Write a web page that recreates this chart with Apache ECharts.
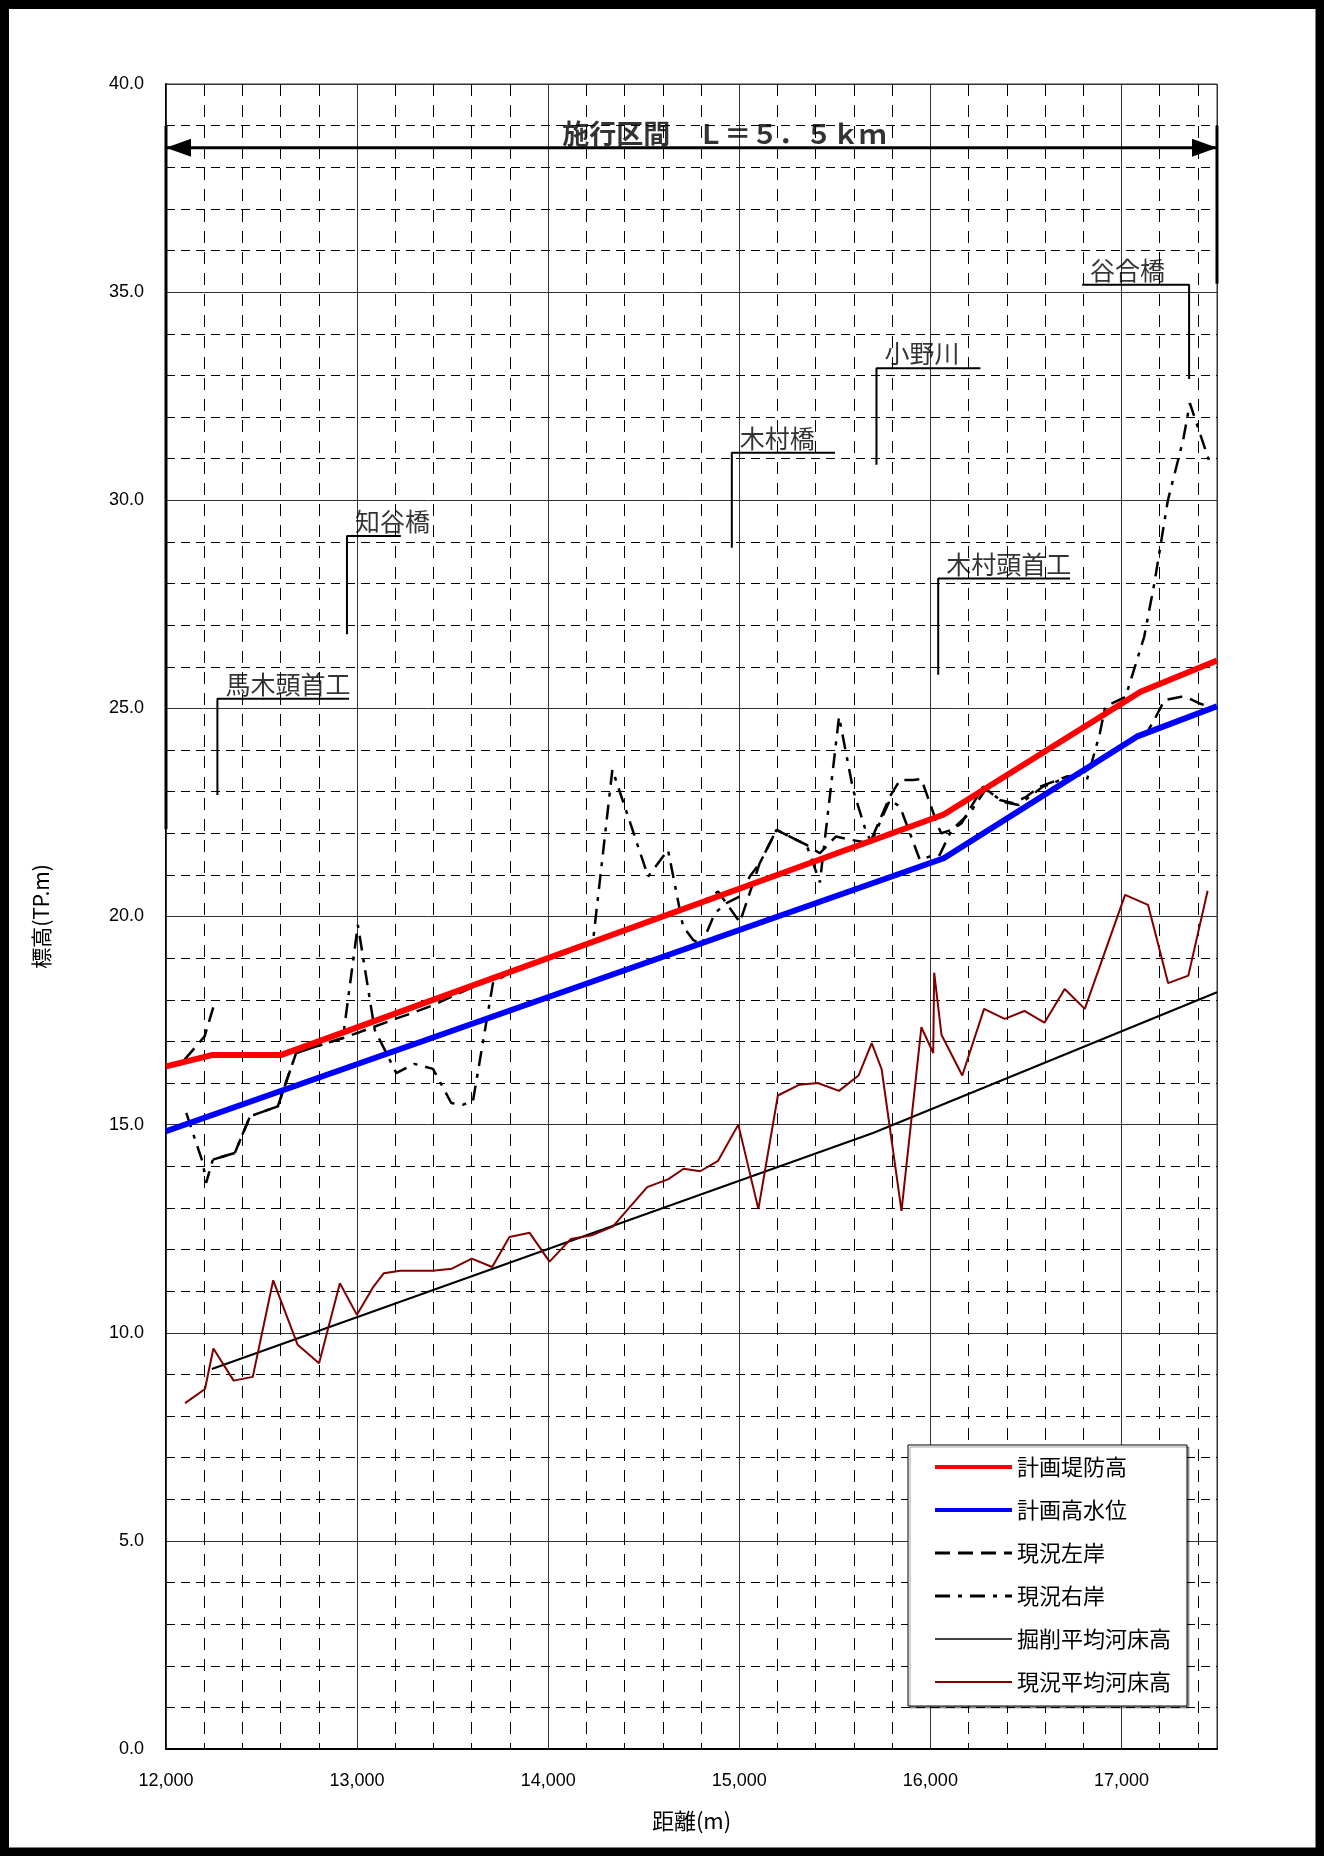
<!DOCTYPE html>
<html>
<head>
<meta charset="utf-8">
<script src="https://cdn.jsdelivr.net/npm/echarts@6/dist/echarts.min.js"></script>
<style>
html,body{margin:0;padding:0;background:#fff;}
#c{width:1324px;height:1856px;}
</style>
</head>
<body>
<div id="c"></div>
<script>
// ---------------- data ----------------
const xTicks = [12000, 13000, 14000, 15000, 16000, 17000];
const yTicks = [0, 5, 10, 15, 20, 25, 30, 35, 40];

const leveeX = [12000, 12240, 12600, 16070, 17100, 17500];
const leveeY = [16.40, 16.67, 16.67, 22.45, 25.40, 26.15];

const hwlX = [12000, 16070, 17080, 17500];
const hwlY = [14.84, 21.40, 24.32, 25.05];

const leftBankX = [12097, 12202, 12254, 12255, 12245, 12360, 12440, 12585, 12681, 12800, 12926, 13000, 13100, 13200, 13300, 13400, 13450, 13700, 14000, 14300, 14619, 14689, 14776, 14837, 14889, 15003, 15107, 15195, 15352, 15422, 15505, 15587, 15683, 15788, 15841, 15910, 15953, 16041, 16057, 16111, 16163, 16276, 16364, 16433, 16503, 16573, 16713, 16783, 16854, 16950, 17060, 17137, 17175, 17225, 17314, 17350, 17403, 17457];
const leftBankY = [16.56, 17.12, 17.92, null, 14.16, 14.32, 15.20, 15.44, 16.72, 16.90, 17.08, 17.20, 17.37, 17.54, 17.70, 17.87, 17.98, 18.50, 19.00, 19.50, 20.06, 20.14, 20.28, 20.44, 20.60, 19.86, 21.28, 22.08, 21.72, 21.52, 21.92, 21.84, 21.76, 22.88, 23.28, 23.28, 23.30, 22.16, 22.00, 22.08, 22.24, 23.12, 22.80, 22.72, 22.88, 23.12, 23.36, 23.40, 23.62, 23.92, 24.25, 24.45, 24.75, 25.20, 25.28, 25.25, 25.13, 25.04];

const rightBankX = [12106, 12193, 12210, 12245, 12360, 12440, 12585, 12681, 12800, 12926, 13004, 13092, 13205, 13300, 13397, 13493, 13554, 13606, 13711, 13800, 14000, 14235, 14336, 14523, 14601, 14627, 14706, 14758, 14803, 14872, 14933, 15003, 15055, 15107, 15195, 15352, 15422, 15522, 15596, 15666, 15692, 15788, 15841, 15945, 15997, 16049, 16111, 16206, 16287, 16322, 16374, 16463, 16589, 16642, 16712, 16783, 16819, 16887, 16915, 17022, 17065, 17119, 17172, 17243, 17323, 17358, 17457];
const rightBankY = [15.28, 14.08, 13.60, 14.16, 14.32, 15.20, 15.44, 16.72, 16.90, 17.08, 19.80, 17.28, 16.24, 16.46, 16.34, 15.52, 15.48, 15.56, 18.40, 18.66, 19.00, 19.42, 23.53, 20.96, 21.44, 21.60, 19.76, 19.44, 19.32, 20.08, 20.32, 20.48, 20.96, 21.28, 22.08, 21.72, 20.82, 24.80, 23.04, 22.00, 21.80, 22.80, 22.64, 21.36, 21.44, 21.48, 22.08, 22.48, 23.04, 22.96, 22.76, 22.68, 23.12, 23.20, 23.36, 23.40, 23.28, 24.40, 25.04, 25.28, 25.92, 26.72, 28.00, 30.00, 31.45, 32.33, 30.97];

const planBedX = [12240, 15700, 17500];
const planBedY = [9.13, 14.80, 18.18];

const bedX = [12100, 12204, 12248, 12354, 12454, 12561, 12689, 12801, 12910, 12999, 13086, 13140, 13226, 13396, 13496, 13600, 13707, 13797, 13903, 14007, 14118, 14228, 14338, 14518, 14629, 14709, 14795, 14889, 14995, 15100, 15202, 15315, 15411, 15522, 15624, 15693, 15745, 15849, 15953, 16015, 16020, 16058, 16167, 16281, 16389, 16492, 16597, 16703, 16808, 17019, 17139, 17244, 17350, 17451];
const bedY = [8.31, 8.65, 9.62, 8.85, 8.94, 11.26, 9.71, 9.27, 11.19, 10.43, 11.11, 11.43, 11.49, 11.49, 11.54, 11.78, 11.58, 12.30, 12.40, 11.71, 12.25, 12.34, 12.55, 13.50, 13.69, 13.94, 13.88, 14.13, 15.00, 12.97, 15.70, 15.96, 16.00, 15.81, 16.18, 16.96, 16.33, 12.93, 17.34, 16.72, 18.65, 17.16, 16.18, 17.78, 17.54, 17.73, 17.45, 18.26, 17.78, 20.52, 20.28, 18.40, 18.58, 20.62];

// annotations (station of the leader, leader extent, elevations)
const annotNames = ['馬木頭首工', '知谷橋', '木村橋', '小野川', '木村頭首工', '谷合橋'];
const annotLineStart = [12269, 12947, 14961, 15718, 16041, 16794];
const annotLineEnd = [12958, 13229, 15501, 16262, 16731, 17354];
const annotLeaderX = [12269, 12947, 14961, 15718, 16041, 17354];
const annotTop = [25.23, 29.14, 31.14, 33.17, 28.12, 35.18];
const annotBottom = [22.92, 26.78, 28.86, 30.85, 25.81, 32.91];

// construction section
const sectionTitle = '施行区間　Ｌ＝５．５ｋｍ';
const sectionStart = 12000;
const sectionEnd = 17500;
const sectionLevel = 38.47;
const sectionTitleX = 14922;
const sectionMarkTop = 39.0;
const sectionLeftMarkBottom = 22.1;
const sectionRightMarkBottom = 35.2;

const seriesNames = ['計画堤防高', '計画高水位', '現況左岸', '現況右岸', '掘削平均河床高', '現況平均河床高'];

// ---------------- chart ----------------
const pairs = (xs, ys) => xs.map((x, i) => [x, ys[i]]);
const CJK = '"Noto Sans CJK JP", "Noto Sans", sans-serif';
const NUM = '"Liberation Sans", Arial, sans-serif';

const leaderData = [];
annotNames.forEach((n, i) => {
  if (annotLeaderX[i] === annotLineStart[i]) {
    leaderData.push([annotLeaderX[i], annotBottom[i]], [annotLineStart[i], annotTop[i]], [annotLineEnd[i], annotTop[i]]);
  } else {
    leaderData.push([annotLineStart[i], annotTop[i]], [annotLineEnd[i], annotTop[i]], [annotLeaderX[i], annotBottom[i]]);
  }
  leaderData.push([annotLineEnd[i], null]);
});
const annotLabelData = annotNames.map((n, i) => ({ name: n, value: [annotLineStart[i], annotTop[i]] }));

const chart = echarts.init(document.getElementById('c'), null, { renderer: 'canvas', width: 1324, height: 1856 });

const option = {
  animation: false,
  backgroundColor: '#fff',
  grid: { left: 166, top: 84, width: 1051, height: 1665, show: true, borderColor: '#333', borderWidth: 1, backgroundColor: 'transparent' },
  xAxis: [
    {
      type: 'value', min: 12000, max: 17500, interval: 1000, z: 1,
      axisLine: { show: true, onZero: false, lineStyle: { color: '#000', width: 2 } },
      axisTick: { show: false },
      axisLabel: {
        margin: 23, fontSize: 18, color: '#000', fontFamily: NUM, showMaxLabel: false,
        formatter: v => xTicks.includes(v) ? v.toLocaleString('en-US') : ''
      },
      splitLine: { show: true, lineStyle: { color: '#333', width: 1, type: 'solid' } },
      name: '距離(m)', nameLocation: 'middle', nameGap: 61,
      nameTextStyle: { fontSize: 22, color: '#000', fontFamily: CJK }
    },
    {
      type: 'value', min: 12000, max: 17500, interval: 200, position: 'bottom', z: 0,
      axisLine: { show: false }, axisTick: { show: false }, axisLabel: { show: false },
      splitLine: { show: true, lineStyle: { color: '#000', width: 1, type: [12, 9] } }
    }
  ],
  yAxis: {
    type: 'value', min: 0, max: 40, interval: 5,
    axisLine: { show: true, onZero: false, lineStyle: { color: '#000', width: 2 } },
    axisTick: { show: false },
    axisLabel: { margin: 22, fontSize: 18, color: '#000', fontFamily: NUM, formatter: v => yTicks.includes(v) ? v.toFixed(1) : '' },
    splitLine: { show: true, lineStyle: { color: '#333', width: 1 } },
    minorTick: { show: false, splitNumber: 5 },
    minorSplitLine: { show: true, lineStyle: { color: '#000', width: 1, type: [9, 6] } },
    name: '標高(TP.m)', nameLocation: 'middle', nameRotate: 90, nameGap: 114,
    nameTextStyle: { fontSize: 21, color: '#000', fontFamily: CJK }
  },
  legend: {
    data: [
      { name: seriesNames[0], lineStyle: { width: 4 } },
      { name: seriesNames[1], lineStyle: { width: 4 } },
      { name: seriesNames[2], lineStyle: { width: 3 } },
      { name: seriesNames[3], lineStyle: { width: 3 } },
      { name: seriesNames[4], lineStyle: { width: 1.5 } },
      { name: seriesNames[5], lineStyle: { width: 2 } }
    ],
    orient: 'vertical', left: 908, top: 1445,
    itemWidth: 77, itemHeight: 14, itemGap: 21,
    padding: [11, 16, 13, 25],
    itemStyle: { opacity: 0, borderWidth: 0 },
    backgroundColor: '#fff', borderColor: '#000', borderWidth: 1,
    shadowColor: 'rgba(0,0,0,0.35)', shadowOffsetX: 2, shadowOffsetY: 2, shadowBlur: 0,
    textStyle: { fontSize: 22, color: '#000', fontFamily: CJK, lineHeight: 22 },
    selectedMode: false
  },
  graphic: [
    { type: 'rect', shape: { x: 4.5, y: 4.5, width: 1315.5, height: 1847.5 }, style: { fill: 'none', stroke: '#000', lineWidth: 9 }, silent: true, z: 100 }
  ],
  series: [
    {
      name: seriesNames[2], type: 'line', data: pairs(leftBankX, leftBankY), symbol: 'none', connectNulls: false, z: 2,
      lineStyle: { color: '#000', width: 2.5, type: [15, 8] }, itemStyle: { color: '#000' }
    },
    {
      name: seriesNames[3], type: 'line', data: pairs(rightBankX, rightBankY), symbol: 'none', z: 2,
      lineStyle: { color: '#000', width: 2.5, type: [15, 8, 4, 8] }, itemStyle: { color: '#000' }
    },
    {
      name: seriesNames[0], type: 'line', data: pairs(leveeX, leveeY), symbol: 'none', z: 3,
      lineStyle: { color: '#ff0000', width: 6 }, itemStyle: { color: '#ff0000' }
    },
    {
      name: seriesNames[1], type: 'line', data: pairs(hwlX, hwlY), symbol: 'none', z: 3,
      lineStyle: { color: '#0000ff', width: 6 }, itemStyle: { color: '#0000ff' }
    },
    {
      name: seriesNames[4], type: 'line', data: pairs(planBedX, planBedY), symbol: 'none', z: 3,
      lineStyle: { color: '#000', width: 2 }, itemStyle: { color: '#000' }
    },
    {
      name: seriesNames[5], type: 'line', data: pairs(bedX, bedY), symbol: 'none', z: 3,
      lineStyle: { color: '#800000', width: 2 }, itemStyle: { color: '#800000' }
    },
    {
      name: 'leaders', type: 'line', data: leaderData, symbol: 'none', connectNulls: false, z: 4, clip: false,
      lineStyle: { color: '#000', width: 2 }, silent: true
    },
    {
      name: 'annotLabels', type: 'scatter', data: annotLabelData, symbolSize: 0, z: 5, silent: true,
      itemStyle: { color: 'rgba(0,0,0,0)' },
      label: { show: true, formatter: '{b}', position: [8, -2], align: 'left', verticalAlign: 'bottom', fontSize: 25, color: '#000', fontFamily: CJK }
    },
    {
      name: 'sectionArrow', type: 'line', z: 4, clip: false, silent: true,
      symbol: 'triangle', symbolSize: [18, 25], showSymbol: true,
      data: [
        { value: [sectionStart, sectionLevel], symbolRotate: 90, symbolOffset: [12.5, 0] },
        { value: [sectionEnd, sectionLevel], symbolRotate: -90, symbolOffset: [-12.5, 0] }
      ],
      lineStyle: { color: '#000', width: 3 }, itemStyle: { color: '#000' }
    },
    {
      name: 'sectionMarks', type: 'line', z: 4, clip: false, silent: true, symbol: 'none', connectNulls: false,
      data: [[sectionStart, sectionMarkTop], [sectionStart, sectionLeftMarkBottom], [sectionStart, null], [sectionEnd, sectionMarkTop], [sectionEnd, sectionRightMarkBottom]],
      lineStyle: { color: '#000', width: 3 }
    },
    {
      name: 'sectionTitle', type: 'scatter', symbolSize: 0, z: 5, silent: true,
      data: [{ name: sectionTitle, value: [sectionTitleX, sectionLevel] }],
      itemStyle: { color: 'rgba(0,0,0,0)' },
      label: { show: true, formatter: '{b}', position: [0, 0], align: 'center', verticalAlign: 'bottom', fontSize: 27, fontWeight: 'bold', color: '#000', fontFamily: CJK }
    }
  ]
};
chart.setOption(option);
</script>
</body>
</html>
